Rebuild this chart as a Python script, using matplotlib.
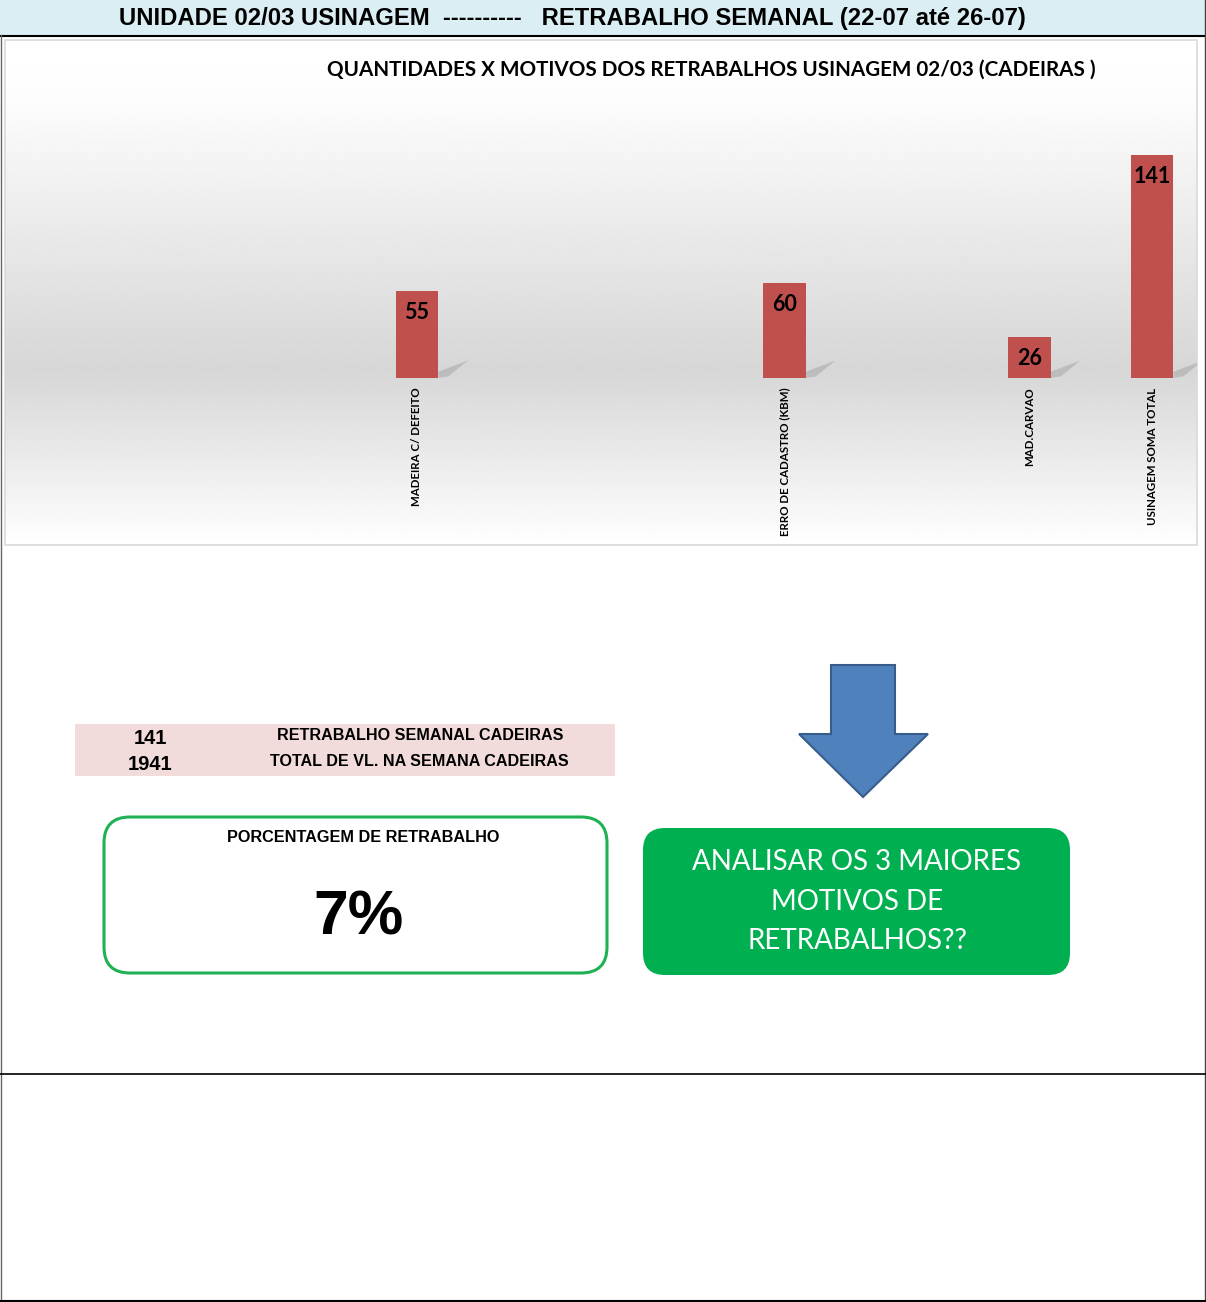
import numpy as np
import matplotlib
matplotlib.use("Agg")
import matplotlib.pyplot as plt
from matplotlib.patches import Rectangle, FancyBboxPatch, Polygon

# chart data (empty slots are blank rows in the sheet)
categorias = ['', '', '', 'MADEIRA C/ DEFEITO', '', '', 'ERRO DE CADASTRO (KBM)',
              '', 'MAD.CARVAO', 'USINAGEM SOMA TOTAL']
quantidades = [0, 0, 0, 55, 0, 0, 60, 0, 26, 141]

retrabalho_semanal = 141
total_semana = 1941

titulo = 'UNIDADE 02/03 USINAGEM  ----------   RETRABALHO SEMANAL (22-07 até 26-07)'
titulo_grafico = 'QUANTIDADES X MOTIVOS DOS RETRABALHOS USINAGEM 02/03 (CADEIRAS )'

W, H = 1206, 1302
fig = plt.figure(figsize=(W/100, H/100), dpi=100)

# background axis in pixel coords
bg = fig.add_axes([0, 0, 1, 1])
bg.set_xlim(0, W)
bg.set_ylim(H, 0)
bg.axis('off')

# header band
bg.add_patch(Rectangle((0, 0), W, 35, facecolor='#dbeef4', edgecolor='none'))
bg.plot([0, W], [35.5, 35.5], color='black', lw=1.5)
bg.text(572, 18, titulo, ha='center', va='center', fontsize=17.2, fontweight='bold',
        family='Liberation Sans')

# page lines
bg.plot([1, 1], [35, 1301], color='#666666', lw=1)
bg.plot([1205, 1205], [0, 1301], color='#444444', lw=1)
bg.plot([0, W], [1073.5, 1073.5], color='black', lw=1.2)
bg.plot([0, W], [1300.5, 1300.5], color='black', lw=1.5)

# chart area gradient
ys = np.linspace(40, 545, 300)
shade = np.interp(ys, [40, 100, 370, 470, 545], [1.0, 0.99, 0.84, 0.93, 1.0])
grad = np.repeat(shade[:, None], 2, axis=1)
bg.imshow(grad, extent=(5, 1197, 545, 40), cmap='gray', vmin=0, vmax=1,
          aspect='auto', interpolation='bilinear', zorder=0)
bg.add_patch(Rectangle((5, 40), 1192, 505, facecolor='none', edgecolor='#d9d9d9', lw=1.2))
bg.text(711, 70, titulo_grafico, ha='center', va='center', fontsize=14.9,
        fontweight='bold', family='Lato')

# bar chart
ax = fig.add_axes([5/W, 1-545/H, 1192/W, 505/H])
ax.patch.set_alpha(0)
x = np.arange(len(categorias))
largura = 0.35
bars = ax.bar(x, quantidades, width=largura, color='#c0504d', zorder=3)
for xi, v in zip(x, quantidades):
    if v > 0:
        r = xi + largura/2
        ax.add_patch(Polygon([(r, 0), (r, 4), (r+0.24, 11), (r+0.08, 1)],
                             closed=True, facecolor='#8c8c8c', alpha=0.35,
                             edgecolor='none', zorder=2))
        ax.text(xi, v - 7, str(v), ha='center', va='top', fontsize=15.5,
                fontweight='bold', family='Lato', zorder=4)
ax.set_xlim(-0.363, 9.367)
ax.set_ylim(-105.6, 213.7)
ax.spines['bottom'].set_position(('data', 0))
ax.set_xticks(x)
ax.set_xticklabels(categorias, rotation=90, fontsize=8.3, fontweight='bold', family='Lato')
ax.tick_params(axis='x', length=0, pad=7)
ax.set_yticks([])
for s in ax.spines.values():
    s.set_visible(False)

# summary table
bg.add_patch(Rectangle((75, 724), 540, 52, facecolor='#f2dcdb', edgecolor='none'))
bg.text(150, 738, str(retrabalho_semanal), ha='center', va='center', fontsize=14.5,
        fontweight='bold', family='Liberation Sans')
bg.text(150, 764, str(total_semana), ha='center', va='center', fontsize=14.5,
        fontweight='bold', family='Liberation Sans')
bg.text(420, 736, 'RETRABALHO SEMANAL CADEIRAS', ha='center', va='center',
        fontsize=11.6, fontweight='bold', family='Liberation Sans')
bg.text(419, 762, 'TOTAL DE VL. NA SEMANA CADEIRAS', ha='center', va='center',
        fontsize=11.6, fontweight='bold', family='Liberation Sans')

# percentage box
bg.add_patch(FancyBboxPatch((104, 817), 503, 156, boxstyle='round,pad=0,rounding_size=26',
                            facecolor='white', edgecolor='#1fb153', lw=2.2))
bg.text(363, 838, 'PORCENTAGEM DE RETRABALHO', ha='center', va='center',
        fontsize=11.7, fontweight='bold', family='Liberation Sans')
pct = retrabalho_semanal / total_semana * 100
bg.text(358, 918, f'{pct:.0f}%', ha='center', va='center', fontsize=45,
        fontweight='bold', family='Liberation Sans')

# arrow
bg.add_patch(Polygon([(831, 665), (895, 665), (895, 734), (928, 734), (863, 797),
                      (799, 734), (831, 734)], closed=True,
                     facecolor='#4f81bd', edgecolor='#385d8a', lw=1.5))

# green action box
bg.add_patch(FancyBboxPatch((643, 828), 427, 147, boxstyle='round,pad=0,rounding_size=22',
                            facecolor='#00b050', edgecolor='none'))
for yy, linha in zip([862, 902, 941], ['ANALISAR OS 3 MAIORES', 'MOTIVOS DE', 'RETRABALHOS??']):
    bg.text(857, yy, linha, ha='center', va='center', fontsize=20, color='white',
            family='Lato')

fig.savefig('out.png', dpi=100)
